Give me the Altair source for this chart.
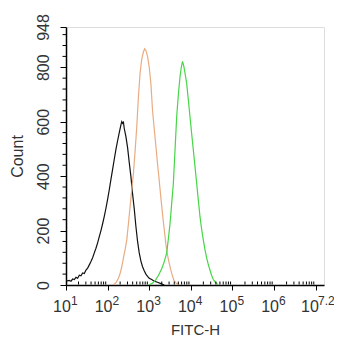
import altair as alt
import pandas as pd

# ---- data (x values are log10(FITC-H)) ----
black_x = [1.00, 1.04, 1.08, 1.12, 1.16, 1.20, 1.24, 1.28, 1.32, 1.36, 1.40, 1.44, 1.48, 1.52, 1.56,
           1.60, 1.64, 1.68, 1.72, 1.76, 1.80, 1.84, 1.88, 1.92, 1.96, 2.00, 2.04, 2.08, 2.12, 2.16,
           2.20, 2.24, 2.28, 2.32, 2.34, 2.36, 2.38, 2.40, 2.44, 2.48, 2.52, 2.56, 2.60, 2.64, 2.68,
           2.72, 2.76, 2.80, 2.84, 2.88, 2.92, 2.96, 3.00, 3.06, 3.12, 3.20, 3.28, 3.36]
black_y = [18, 15, 17, 14, 22, 20, 28, 25, 36, 34, 44, 42, 55, 62, 74,
           86, 100, 118, 135, 155, 178, 200, 225, 252, 282, 315, 350, 388, 425, 462,
           498, 530, 560, 588, 600, 594, 598, 575, 545, 505, 450, 398, 335, 280, 215,
           160, 118, 88, 67, 52, 40, 32, 25, 20, 14, 10, 5, 0]

orange_x = [2.13, 2.20, 2.26, 2.30, 2.34, 2.38, 2.42, 2.46, 2.50, 2.54, 2.58, 2.62, 2.66, 2.70,
            2.74, 2.78, 2.82, 2.86, 2.89, 2.92, 2.96, 3.00, 3.04, 3.08, 3.12, 3.16, 3.20, 3.24,
            3.28, 3.32, 3.36, 3.40, 3.44, 3.48, 3.52, 3.56, 3.60, 3.66, 3.72]
orange_y = [0, 8, 25, 42, 67, 100, 130, 165, 225, 288, 350, 410, 490, 580,
            690, 778, 830, 856, 868, 862, 840, 800, 740, 640, 575, 510, 445, 385,
            320, 260, 205, 150, 110, 80, 55, 32, 15, 5, 0]

green_x = [2.98, 3.06, 3.14, 3.22, 3.30, 3.36, 3.42, 3.46, 3.50, 3.54, 3.58, 3.62, 3.66, 3.70,
           3.74, 3.77, 3.80, 3.83, 3.86, 3.90, 3.94, 3.98, 4.02, 4.06, 4.10, 4.14, 4.18, 4.22,
           4.26, 4.30, 4.34, 4.38, 4.42, 4.46, 4.50, 4.54, 4.58, 4.62, 4.66]
green_y = [0, 5, 15, 35, 60, 85, 118, 170, 225, 300, 374, 496, 618, 700,
           765, 800, 822, 805, 778, 741, 680, 618, 556, 496, 435, 374, 312, 251,
           205, 165, 129, 100, 75, 55, 35, 20, 12, 6, 0]

series_names = ["Isotype control", "Unstained", "Antibody"]
series_colors = ["#111111", "#e9ac82", "#46d646"]

x_major = [1, 2, 3, 4, 5, 6, 7]
x_label_pos = [1, 2, 3, 4, 5, 6, 7.2]
x_label_exp = ["1", "2", "3", "4", "5", "6", "7.2"]
x_minor = [n + m for n in range(1, 7) for m in
           [0.30103, 0.47712, 0.60206, 0.69897, 0.77815, 0.84510, 0.90309, 0.95424]]

y_major = [0, 200, 400, 600, 800, 948]
y_minor = [v for v in range(40, 948, 40) if v % 200 != 0]

rows = []
for name, xs, ys in [(series_names[0], black_x, black_y),
                     (series_names[1], orange_x, orange_y),
                     (series_names[2], green_x, green_y)]:
    for i, (a, b) in enumerate(zip(xs, ys)):
        rows.append({"series": name, "logx": a, "count": b, "idx": i})
df = pd.DataFrame(rows)

W, H = 258, 258
FONT = "Liberation Sans"
xscale = alt.Scale(domain=[1, 7.2], nice=False, zero=False)
yscale = alt.Scale(domain=[0, 948], nice=False, zero=True)

lines = alt.Chart(df).mark_line(strokeWidth=1.2, clip=True).encode(
    x=alt.X("logx:Q", scale=xscale,
            axis=alt.Axis(values=x_major, labels=False, tickSize=5, tickColor="black",
                          domainColor="black", domainWidth=1.5, grid=False,
                          title="FITC-H", titleFontSize=15, titleFontWeight="normal",
                          titleColor="#333333", titleFont=FONT, titlePadding=32)),
    y=alt.Y("count:Q", scale=yscale,
            axis=alt.Axis(values=y_major, labelAngle=270, labelAlign="center",
                          labelBaseline="bottom", labelFontSize=16, labelFont=FONT,
                          labelColor="#333333", labelPadding=9, tickSize=6,
                          tickColor="black", domainColor="black", domainWidth=1.5,
                          grid=False, title="Count", titleFontSize=16,
                          titleFontWeight="normal", titleColor="#333333",
                          titleFont=FONT, titlePadding=10)),
    color=alt.Color("series:N", scale=alt.Scale(domain=series_names, range=series_colors),
                    legend=None),
    order="idx:Q",
)

xminor_df = pd.DataFrame({"pos": x_minor})
xminor = alt.Chart(xminor_df).mark_rule(color="black", strokeWidth=1).encode(
    x=alt.X("pos:Q", scale=xscale),
    y=alt.value(H - 0.5), y2=alt.value(H - 3.5))

yminor_df = pd.DataFrame({"v": y_minor})
yminor = alt.Chart(yminor_df).mark_rule(color="black", strokeWidth=1).encode(
    y=alt.Y("v:Q", scale=yscale),
    x=alt.value(0), x2=alt.value(-3.5))

lab_df = pd.DataFrame({"pos": x_label_pos, "exp": x_label_exp, "base": ["10"] * len(x_label_pos)})

base_main = alt.Chart(lab_df).transform_filter("datum.pos < 7").mark_text(
    fontSize=16, font=FONT, color="#333333", align="center", baseline="middle", dx=-4
).encode(x=alt.X("pos:Q", scale=xscale), y=alt.value(H + 22), text="base:N")
exp_main = alt.Chart(lab_df).transform_filter("datum.pos < 7").mark_text(
    fontSize=12, font=FONT, color="#333333", align="left", baseline="middle", dx=5
).encode(x=alt.X("pos:Q", scale=xscale), y=alt.value(H + 16), text="exp:N")
base_last = alt.Chart(lab_df).transform_filter("datum.pos >= 7").mark_text(
    fontSize=16, font=FONT, color="#333333", align="center", baseline="middle", dx=-14
).encode(x=alt.X("pos:Q", scale=xscale), y=alt.value(H + 22), text="base:N")
exp_last = alt.Chart(lab_df).transform_filter("datum.pos >= 7").mark_text(
    fontSize=12, font=FONT, color="#333333", align="left", baseline="middle", dx=-6
).encode(x=alt.X("pos:Q", scale=xscale), y=alt.value(H + 16), text="exp:N")

chart = alt.layer(lines, xminor, yminor, base_main, exp_main, base_last, exp_last).properties(
    width=W, height=H,
    autosize=alt.AutoSizeParams(type="none"),
    padding={"left": 58, "top": 19, "right": 10, "bottom": 55},
).configure_view(stroke="black", strokeWidth=1.5).configure(background="white")

chart.save("out.html", embed_options={"renderer": "svg", "actions": False})
